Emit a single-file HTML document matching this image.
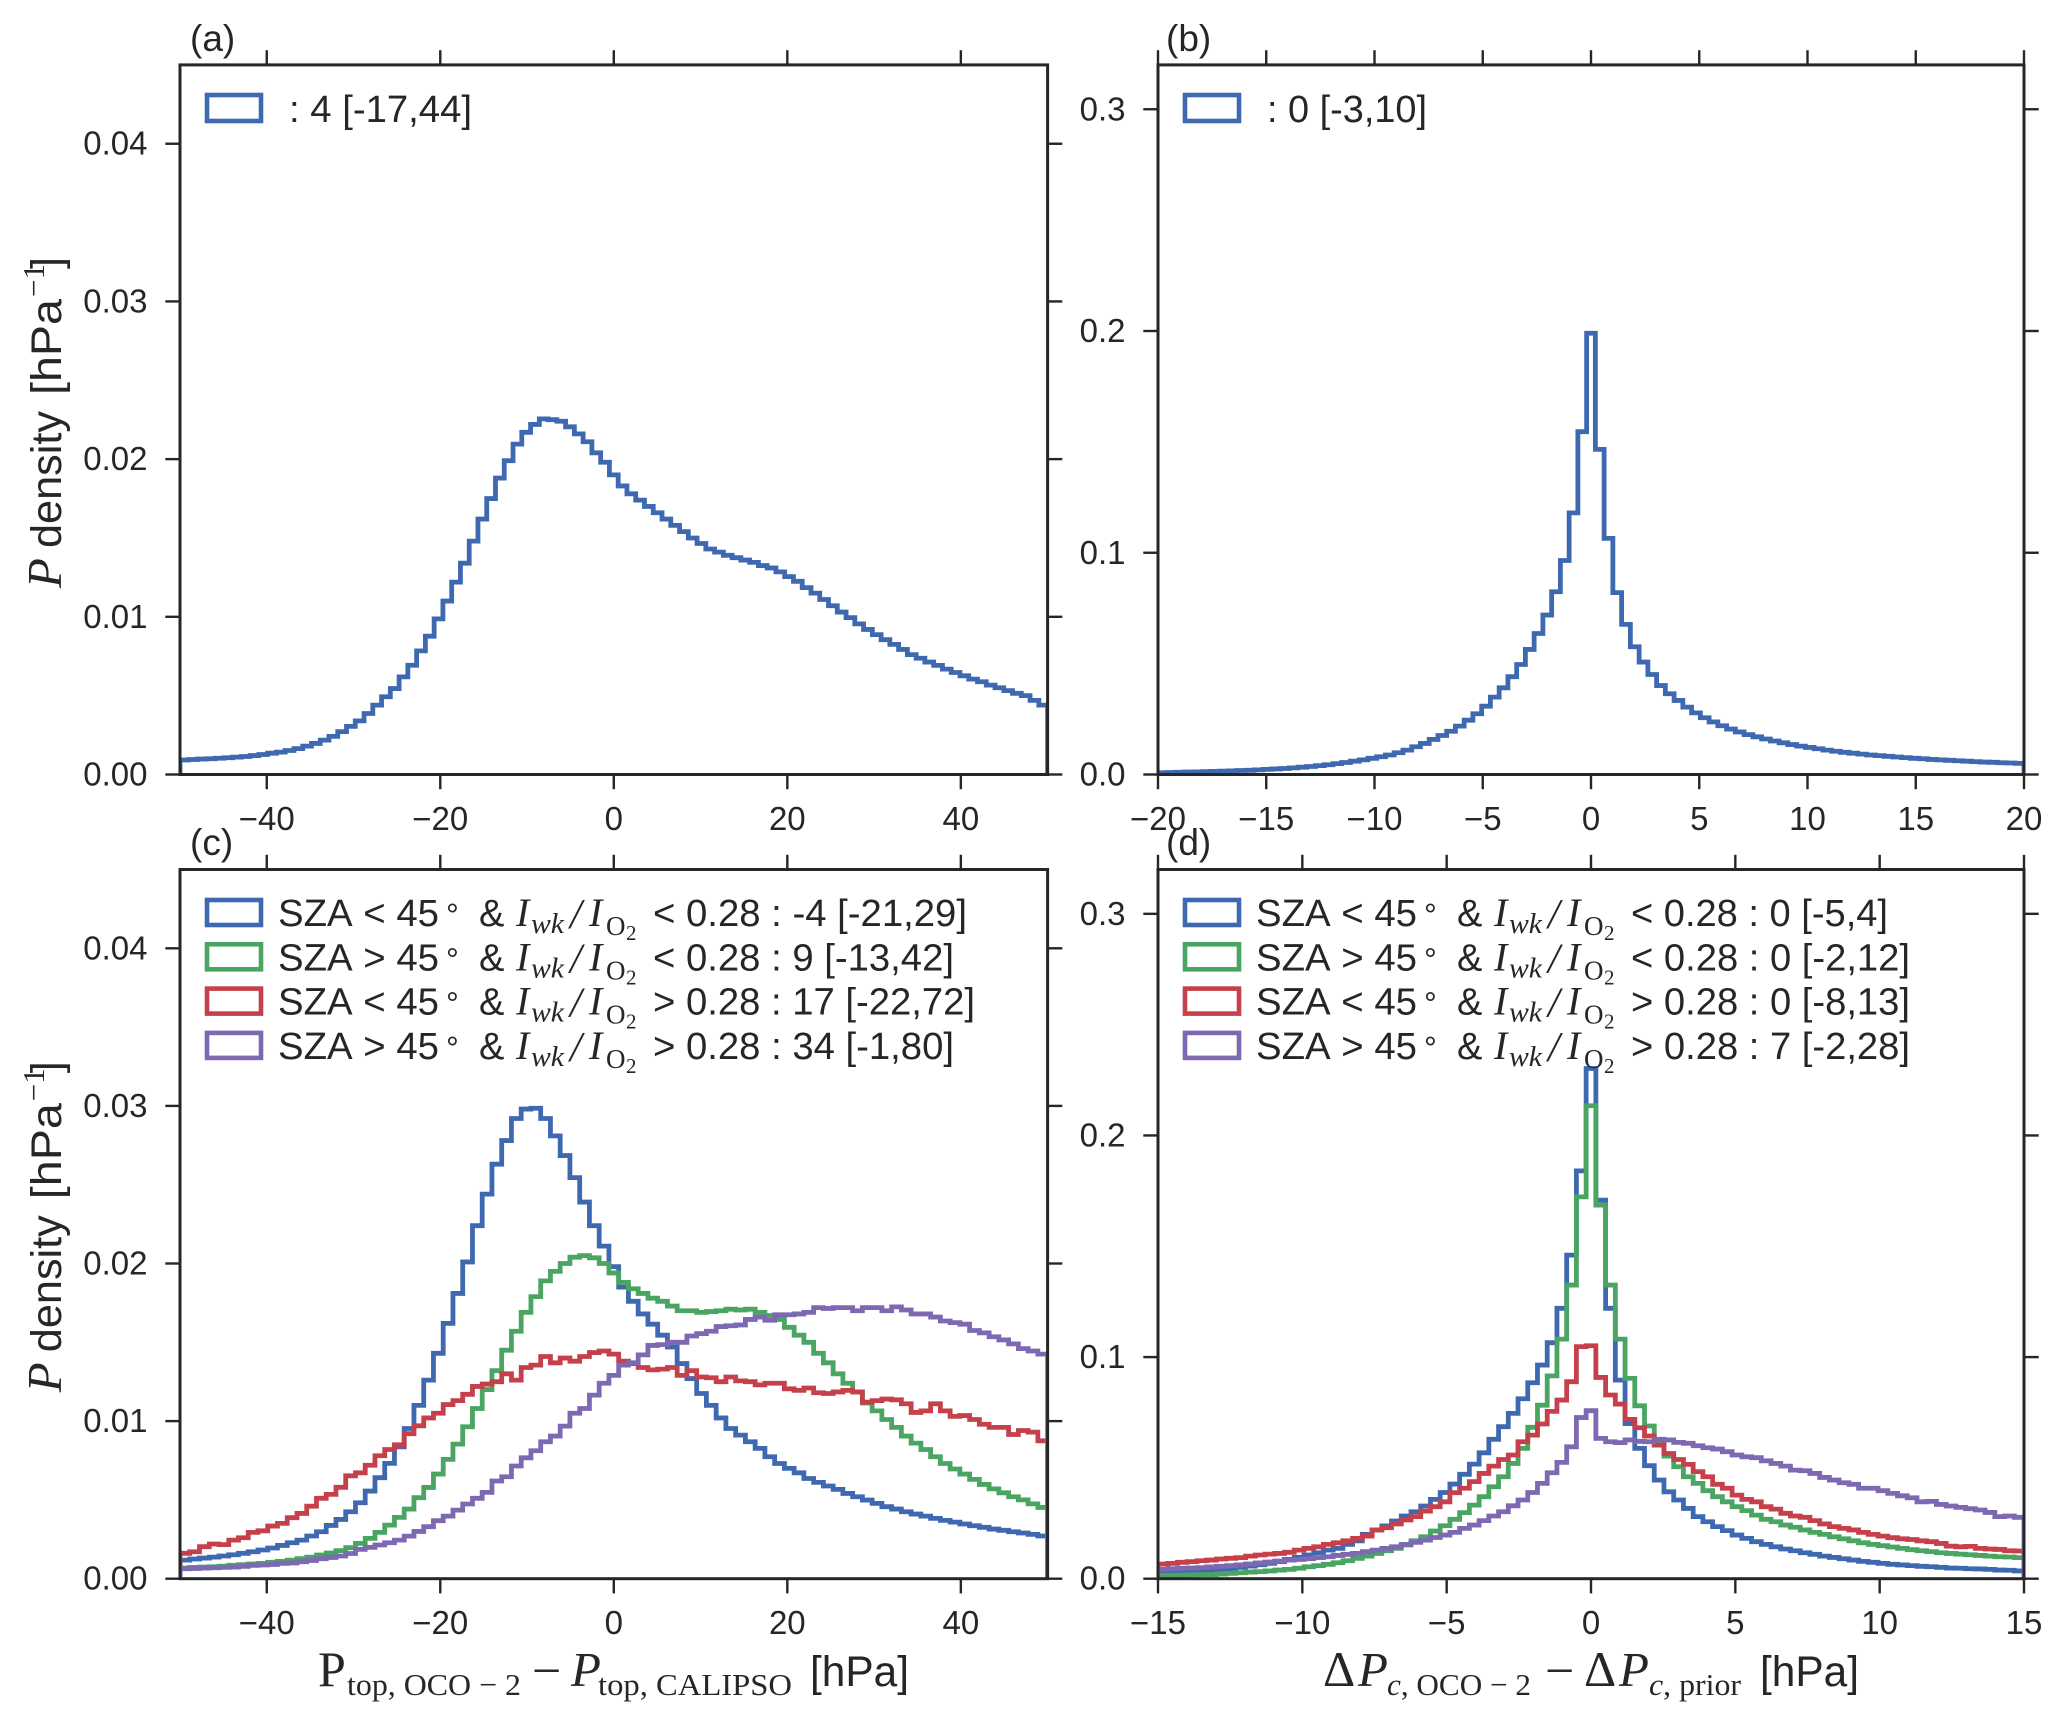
<!DOCTYPE html>
<html lang="en">
<head>
<meta charset="utf-8">
<title>Cloud top pressure difference histograms</title>
<style>
html,body{margin:0;padding:0;background:#fff;}
svg{display:block;}
text{fill:#262626;font-family:"Liberation Sans",sans-serif;}
.tick{font-size:33px;}
.panel{font-size:37px;}
.lg{font-size:38px;font-kerning:none;}
.deg{font-size:32px;}
.mi{font-family:"Liberation Serif",serif;font-style:italic;font-size:40px;}
.ms{font-family:"Liberation Serif",serif;font-style:italic;font-size:29px;}
.mr{font-family:"Liberation Serif",serif;font-size:27px;}
.mrr{font-family:"Liberation Serif",serif;font-size:21px;}
.ax{font-size:43px;}
.axi{font-family:"Liberation Serif",serif;font-style:italic;font-size:49px;}
.axr{font-family:"Liberation Serif",serif;font-size:50px;}
.axm{font-family:"Liberation Serif",serif;font-size:52px;}
.axs{font-family:"Liberation Serif",serif;font-size:31px;}
.axsi{font-family:"Liberation Serif",serif;font-style:italic;font-size:31px;}
.patch{fill:none;stroke-width:4.6;}
</style>
</head>
<body>
<svg id="figure" xmlns="http://www.w3.org/2000/svg" width="2067" height="1723" viewBox="0 0 2067 1723">
<rect x="0" y="0" width="2067" height="1723" fill="#ffffff"/>
<g id="plots"></g>

<text class="panel" x="190" y="51">(a)</text>
<text class="panel" x="1166" y="51">(b)</text>
<text class="panel" x="190" y="855">(c)</text>
<text class="panel" x="1166" y="855">(d)</text>

<g>
  <rect class="patch" x="207" y="95" width="54" height="26" stroke="#3e69b1"/>
  <text class="lg" x="289" y="122" textLength="183" lengthAdjust="spacingAndGlyphs">: 4 [-17,44]</text>
</g>
<g>
  <rect class="patch" x="1185" y="95" width="54" height="26" stroke="#3e69b1"/>
  <text class="lg" x="1267" y="122" textLength="160" lengthAdjust="spacingAndGlyphs">: 0 [-3,10]</text>
</g>

<g id="legend-c">
  <g>
    <rect class="patch" x="207" y="900" width="54" height="25" stroke="#3e69b1"/>
    <text class="lg" x="278" y="926" textLength="161" lengthAdjust="spacingAndGlyphs">SZA &lt; 45</text>
    <text class="deg" x="446" y="926">°</text>
    <text class="lg" x="479" y="926">&amp;</text>
    <text class="mi" x="516" y="926">I</text>
    <text class="ms" x="531" y="933" textLength="33" lengthAdjust="spacingAndGlyphs">wk</text>
    <text class="mi" x="570" y="928" style="font-size:42px">/</text>
    <text class="mi" x="589" y="926">I</text>
    <text class="mr" x="606" y="935">O</text>
    <text class="mrr" x="626" y="940">2</text>
    <text class="lg" x="653" y="926" textLength="314" lengthAdjust="spacingAndGlyphs">&lt; 0.28 : -4 [-21,29]</text>
  </g>
  <g transform="translate(0,44.3)">
    <rect class="patch" x="207" y="900" width="54" height="25" stroke="#4aa562"/>
    <text class="lg" x="278" y="926" textLength="161" lengthAdjust="spacingAndGlyphs">SZA &gt; 45</text>
    <text class="deg" x="446" y="926">°</text>
    <text class="lg" x="479" y="926">&amp;</text>
    <text class="mi" x="516" y="926">I</text>
    <text class="ms" x="531" y="933" textLength="33" lengthAdjust="spacingAndGlyphs">wk</text>
    <text class="mi" x="570" y="928" style="font-size:42px">/</text>
    <text class="mi" x="589" y="926">I</text>
    <text class="mr" x="606" y="935">O</text>
    <text class="mrr" x="626" y="940">2</text>
    <text class="lg" x="653" y="926" textLength="301" lengthAdjust="spacingAndGlyphs">&lt; 0.28 : 9 [-13,42]</text>
  </g>
  <g transform="translate(0,88.6)">
    <rect class="patch" x="207" y="900" width="54" height="25" stroke="#c5404a"/>
    <text class="lg" x="278" y="926" textLength="161" lengthAdjust="spacingAndGlyphs">SZA &lt; 45</text>
    <text class="deg" x="446" y="926">°</text>
    <text class="lg" x="479" y="926">&amp;</text>
    <text class="mi" x="516" y="926">I</text>
    <text class="ms" x="531" y="933" textLength="33" lengthAdjust="spacingAndGlyphs">wk</text>
    <text class="mi" x="570" y="928" style="font-size:42px">/</text>
    <text class="mi" x="589" y="926">I</text>
    <text class="mr" x="606" y="935">O</text>
    <text class="mrr" x="626" y="940">2</text>
    <text class="lg" x="653" y="926" textLength="322" lengthAdjust="spacingAndGlyphs">&gt; 0.28 : 17 [-22,72]</text>
  </g>
  <g transform="translate(0,132.9)">
    <rect class="patch" x="207" y="900" width="54" height="25" stroke="#7d68b2"/>
    <text class="lg" x="278" y="926" textLength="161" lengthAdjust="spacingAndGlyphs">SZA &gt; 45</text>
    <text class="deg" x="446" y="926">°</text>
    <text class="lg" x="479" y="926">&amp;</text>
    <text class="mi" x="516" y="926">I</text>
    <text class="ms" x="531" y="933" textLength="33" lengthAdjust="spacingAndGlyphs">wk</text>
    <text class="mi" x="570" y="928" style="font-size:42px">/</text>
    <text class="mi" x="589" y="926">I</text>
    <text class="mr" x="606" y="935">O</text>
    <text class="mrr" x="626" y="940">2</text>
    <text class="lg" x="653" y="926" textLength="301" lengthAdjust="spacingAndGlyphs">&gt; 0.28 : 34 [-1,80]</text>
  </g>
</g>

<g id="legend-d" transform="translate(978,0)">
  <g>
    <rect class="patch" x="207" y="900" width="54" height="25" stroke="#3e69b1"/>
    <text class="lg" x="278" y="926" textLength="161" lengthAdjust="spacingAndGlyphs">SZA &lt; 45</text>
    <text class="deg" x="446" y="926">°</text>
    <text class="lg" x="479" y="926">&amp;</text>
    <text class="mi" x="516" y="926">I</text>
    <text class="ms" x="531" y="933" textLength="33" lengthAdjust="spacingAndGlyphs">wk</text>
    <text class="mi" x="570" y="928" style="font-size:42px">/</text>
    <text class="mi" x="589" y="926">I</text>
    <text class="mr" x="606" y="935">O</text>
    <text class="mrr" x="626" y="940">2</text>
    <text class="lg" x="653" y="926" textLength="257" lengthAdjust="spacingAndGlyphs">&lt; 0.28 : 0 [-5,4]</text>
  </g>
  <g transform="translate(0,44.3)">
    <rect class="patch" x="207" y="900" width="54" height="25" stroke="#4aa562"/>
    <text class="lg" x="278" y="926" textLength="161" lengthAdjust="spacingAndGlyphs">SZA &gt; 45</text>
    <text class="deg" x="446" y="926">°</text>
    <text class="lg" x="479" y="926">&amp;</text>
    <text class="mi" x="516" y="926">I</text>
    <text class="ms" x="531" y="933" textLength="33" lengthAdjust="spacingAndGlyphs">wk</text>
    <text class="mi" x="570" y="928" style="font-size:42px">/</text>
    <text class="mi" x="589" y="926">I</text>
    <text class="mr" x="606" y="935">O</text>
    <text class="mrr" x="626" y="940">2</text>
    <text class="lg" x="653" y="926" textLength="279" lengthAdjust="spacingAndGlyphs">&lt; 0.28 : 0 [-2,12]</text>
  </g>
  <g transform="translate(0,88.6)">
    <rect class="patch" x="207" y="900" width="54" height="25" stroke="#c5404a"/>
    <text class="lg" x="278" y="926" textLength="161" lengthAdjust="spacingAndGlyphs">SZA &lt; 45</text>
    <text class="deg" x="446" y="926">°</text>
    <text class="lg" x="479" y="926">&amp;</text>
    <text class="mi" x="516" y="926">I</text>
    <text class="ms" x="531" y="933" textLength="33" lengthAdjust="spacingAndGlyphs">wk</text>
    <text class="mi" x="570" y="928" style="font-size:42px">/</text>
    <text class="mi" x="589" y="926">I</text>
    <text class="mr" x="606" y="935">O</text>
    <text class="mrr" x="626" y="940">2</text>
    <text class="lg" x="653" y="926" textLength="279" lengthAdjust="spacingAndGlyphs">&gt; 0.28 : 0 [-8,13]</text>
  </g>
  <g transform="translate(0,132.9)">
    <rect class="patch" x="207" y="900" width="54" height="25" stroke="#7d68b2"/>
    <text class="lg" x="278" y="926" textLength="161" lengthAdjust="spacingAndGlyphs">SZA &gt; 45</text>
    <text class="deg" x="446" y="926">°</text>
    <text class="lg" x="479" y="926">&amp;</text>
    <text class="mi" x="516" y="926">I</text>
    <text class="ms" x="531" y="933" textLength="33" lengthAdjust="spacingAndGlyphs">wk</text>
    <text class="mi" x="570" y="928" style="font-size:42px">/</text>
    <text class="mi" x="589" y="926">I</text>
    <text class="mr" x="606" y="935">O</text>
    <text class="mrr" x="626" y="940">2</text>
    <text class="lg" x="653" y="926" textLength="279" lengthAdjust="spacingAndGlyphs">&gt; 0.28 : 7 [-2,28]</text>
  </g>
</g>

<g>
  <text class="axi" transform="translate(61,588) rotate(-90)">P</text>
  <text class="ax" transform="translate(61,548) rotate(-90)" textLength="137" lengthAdjust="spacingAndGlyphs">density</text>
  <text class="ax" transform="translate(61,395) rotate(-90)" textLength="96" lengthAdjust="spacingAndGlyphs">[hPa</text>
  <text class="axs" transform="translate(44,297) rotate(-90)">−1</text>
  <text class="ax" transform="translate(61,269) rotate(-90)">]</text>
</g>
<g transform="translate(0,804.2)">
  <text class="axi" transform="translate(61,588) rotate(-90)">P</text>
  <text class="ax" transform="translate(61,548) rotate(-90)" textLength="137" lengthAdjust="spacingAndGlyphs">density</text>
  <text class="ax" transform="translate(61,395) rotate(-90)" textLength="96" lengthAdjust="spacingAndGlyphs">[hPa</text>
  <text class="axs" transform="translate(44,297) rotate(-90)">−1</text>
  <text class="ax" transform="translate(61,269) rotate(-90)">]</text>
</g>

<g>
  <text class="axr" x="318" y="1686">P</text>
  <text class="axs" x="347" y="1695" textLength="174" lengthAdjust="spacingAndGlyphs">top, OCO − 2</text>
  <text class="axm" x="532" y="1688">−</text>
  <text class="axi" x="571" y="1686">P</text>
  <text class="axs" x="598" y="1695" textLength="194" lengthAdjust="spacingAndGlyphs">top, CALIPSO</text>
  <text class="ax" x="810" y="1686" textLength="99" lengthAdjust="spacingAndGlyphs">[hPa]</text>
</g>
<g>
  <text class="axr" x="1323" y="1686">Δ</text>
  <text class="axi" x="1358" y="1686">P</text>
  <text class="axs" x="1387" y="1695" textLength="144" lengthAdjust="spacingAndGlyphs"><tspan class="axsi">c</tspan>, OCO − 2</text>
  <text class="axm" x="1545" y="1688">−</text>
  <text class="axr" x="1584" y="1686">Δ</text>
  <text class="axi" x="1619" y="1686">P</text>
  <text class="axs" x="1649" y="1695" textLength="92" lengthAdjust="spacingAndGlyphs"><tspan class="axsi">c</tspan>, prior</text>
  <text class="ax" x="1760" y="1686" textLength="99" lengthAdjust="spacingAndGlyphs">[hPa]</text>
</g>
</svg>

<script>
// ---- Data ----
// Panel (a), density in 10^-3 hPa^-1 per bin
const histA = [0.92,0.95,0.98,1.0,1.03,1.06,1.1,1.14,1.2,1.27,1.35,1.42,1.52,1.64,1.8,1.97,2.18,2.42,2.72,3.05,
  3.4,3.87,4.4,4.93,5.45,6.19,6.93,7.84,8.77,9.87,11.0,12.2,13.4,14.8,16.2,17.5,18.8,19.9,20.95,21.7,22.2,
  22.55,22.5,22.4,22.05,21.6,21.1,20.4,19.8,19.0,18.3,17.8,17.4,17.0,16.6,16.2,15.8,15.4,15.0,14.65,14.3,14.1,13.9,13.75,13.6,13.45,13.25,13.1,12.85,12.55,12.25,11.85,11.5,11.1,10.7,10.3,9.95,9.55,9.2,8.87,8.55,8.25,7.93,7.6,7.37,7.13,6.92,6.68,6.47,6.26,6.05,5.88,5.67,5.5,5.32,5.15,5.0,4.7,4.4];

// Panel (b), density per bin
const histB = [.0008,.0009,.0010,.0011,.0012,.0013,.0014,.0015,.0016,.0018,.0019,.0021,.0023,.0025,.0027,.0030,.0033,.0036,.0040,.0044,.0049,.0054,.0060,.0066,.0073,.0080,.0088,
  .0098,.011,.0125,.014,.0158,.0176,.0195,.0218,.0245,.0274,.0308,.0349,.0391,.0441,.0496,.0564,.0636,.0719,.0824,.0965,.118,.1546,.199,.1466,.1065,.082,.0677,.0576,.0507,.0451,.0401,.0364,.0334,.0304,
  .0278,.0256,.0237,.0220,.0205,.0192,.0180,.0170,.0160,.0151,.0143,.0135,.0128,.0122,.0116,.0110,.0105,.0100,.0096,.0092,.0088,.0085,.0082,.0079,.0076,.0073,.0071,.0068,.0066,.0064,.0062,.0060,.0058,.0056,.0055,.0053,.0052,.0050];

// Panel (c), density in 10^-3 hPa^-1 per bin
const histCBlue = [1.18,1.25,1.31,1.37,1.44,1.52,1.61,1.71,1.82,1.95,2.11,2.28,2.45,2.71,2.98,3.38,3.76,4.25,4.82,5.56,6.41,7.32,8.37,9.53,11.0,12.6,14.3,16.2,18.1,20.1,22.4,24.4,26.3,27.8,29.2,29.8,29.85,29.2,28.1,26.85,25.45,23.9,22.4,21.1,19.8,18.5,17.6,16.8,16.15,15.45,14.7,13.65,12.7,11.75,11.0,10.2,9.53,9.11,8.69,8.27,7.74,7.31,7.0,6.72,6.36,6.11,5.88,5.67,5.41,5.2,4.99,4.78,4.57,4.42,4.25,4.1,3.97,3.83,3.7,3.59,3.47,3.36,3.26,3.15,3.07,2.98,2.9,2.81,2.71];
const histCGreen = [.68,.72,.74,.76,.80,.85,.89,.93,.97,1.04,1.10,1.18,1.27,1.37,1.50,1.63,1.78,1.97,2.24,2.56,2.94,3.40,3.89,4.42,5.14,5.79,6.64,7.57,8.54,9.64,10.8,12.0,13.2,14.5,15.7,16.9,17.9,18.9,19.5,20.0,20.4,20.5,20.36,20.0,19.4,
  18.8,18.4,18.1,17.8,17.6,17.3,17.0,17.0,16.9,16.95,17.0,17.1,17.05,17.1,16.9,16.7,16.45,15.95,15.45,15.0,14.3,13.7,13.0,12.4,11.85,11.15,10.65,10.1,9.6,9.05,8.6,8.2,7.74,7.31,6.96,6.64,6.3,5.98,5.7,5.45,5.2,5.0,4.75,4.52];
const histCRed = [1.61,1.71,2.03,2.2,2.16,2.45,2.6,2.94,3.04,3.34,3.51,3.87,4.14,4.6,5.1,5.35,5.8,6.53,6.72,7.2,7.8,8.2,8.5,9.2,9.7,10.2,10.5,11.05,11.3,11.7,12.2,12.35,12.5,13.0,12.6,13.4,13.55,14.1,13.7,14.0,13.8,14.1,14.35,14.45,14.25,
  13.8,13.65,13.4,13.25,13.3,13.4,12.9,13.2,12.8,12.75,12.5,12.8,12.55,12.5,12.3,12.4,12.4,12.05,11.95,12.1,11.8,11.75,11.85,11.95,11.85,11.2,11.3,11.4,11.35,11.1,10.55,10.65,11.1,10.65,10.3,10.35,10.1,9.8,9.6,9.6,9.15,9.4,9.3,8.75];
const histCPurple = [.63,.65,.67,.70,.72,.74,.78,.85,.87,.9,.97,1.0,1.08,1.16,1.27,1.35,1.44,1.6,1.86,1.99,2.14,2.28,2.45,2.7,3.0,3.3,3.68,3.97,4.35,4.74,5.1,5.48,6.2,6.47,7.15,7.67,8.12,8.69,9.05,9.68,10.5,10.8,11.65,12.4,12.9,
  13.55,13.7,14.2,14.8,14.85,15.0,15.0,15.4,15.55,15.7,16.0,16.05,16.1,16.45,16.6,16.4,16.75,16.75,16.8,16.9,17.2,17.15,17.2,17.2,17.0,17.2,17.2,17.0,17.25,17.05,16.8,16.8,16.6,16.35,16.25,16.15,15.75,15.6,15.35,15.15,14.9,14.6,14.45,14.25];

// Panel (d), density per bin
const histDBlue = [.0027,.0029,.003,.0033,.0036,.0039,.0042,.0045,.0051,.0057,.0063,.0069,.0077,.0087,.0096,.0107,.0117,.0129,.0137,.0155,.0171,.02,.022,.0238,.026,.0283,.0302,.0328,.0358,.0389,.0427,.0471,.0517,.0568,.0629,.0686,.0746,.0812,.0884,.0964,.1065,.122,.146,.184,.2302,.1708,.122,.0896,.07,
  .0588,.051,.0445,.0392,.0355,.0317,.028,.0257,.0235,.0217,.0197,.0182,.0167,.0155,.0144,.0134,.0126,.0117,.011,.0102,.0096,.009,.0084,.0078,.0074,.0069,.0065,.0062,.0059,.0056,.0054,.0051,.0048,.0047,.0045,.0044,.0042,.0039,.0038,.0035];
const histDGreen = [.0015,.0015,.0016,.0017,.0018,.0018,.0021,.0024,.0027,.003,.0032,.0035,.0039,.0042,.0047,.0054,.0059,.0065,.0072,.0081,.0092,.0102,.0114,.0126,.0137,.0152,.0171,.0189,.0215,.0239,.0268,.0298,.0332,.037,.0415,.046,.052,.0588,.0683,.0783,.0915,.1081,.1325,.1723,.2134,.1686,.1325,.1081,.0904,
  .078,.0689,.061,.0553,.0505,.046,.043,.0397,.037,.0347,.0325,.0307,.0287,.0268,.0257,.0242,.0232,.022,.0209,.02,.0189,.018,.0171,.0162,.0155,.0149,.0143,.0137,.0131,.0126,.0122,.0117,.0114,.0111,.0108,.0105,.0102,.0099,.0098,.0095];
const histDRed = [.0066,.0069,.0074,.0077,.0081,.0084,.0089,.0092,.0095,.0102,.0107,.0111,.0114,.0119,.0129,.0137,.0144,.0155,.0162,.0171,.0182,.0192,.022,.023,.0247,.0265,.028,.0305,.0325,.0347,.0388,.0408,.0438,.0475,.0508,.0538,.0558,.0618,.0648,.0698,.0755,.0806,.0889,.1047,.1051,.0908,.0829,.0788,.0719,
  .0681,.0644,.0603,.0565,.0538,.0516,.0483,.046,.0426,.0408,.0377,.0358,.0347,.0325,.0314,.0295,.0283,.0277,.0262,.0247,.0235,.0227,.022,.0209,.02,.0192,.0185,.018,.0177,.0171,.0167,.0159,.0147,.0144,.0146,.0137,.0134,.0132,.0126,.0125];
const histDPurple = [.0042,.0045,.0047,.0048,.005,.0053,.0056,.0059,.0062,.0066,.0071,.0075,.008,.0084,.0087,.009,.0095,.0099,.0105,.011,.0114,.0122,.0129,.0137,.0144,.0155,.0164,.0174,.0186,.0197,.0209,.0227,.0242,.0262,.0283,.0302,.0329,.0355,.0389,.043,.0478,.0525,.0595,.0727,.0758,.0633,
  .0618,.0614,.0626,.062,.0618,.0629,.0626,.0615,.0611,.06,.0591,.0585,.0573,.0558,.055,.0546,.0532,.052,.0508,.049,.0487,.0475,.0457,.0445,.0433,.0426,.0408,.0408,.0397,.0385,.0374,.0365,.0347,.0349,.0335,.0328,.0322,.0316,.031,.0299,.028,.0283,.0277];

// Tick values and labels
const xTicksAC = [-40,-20,0,20,40];
const xTickLabelsAC = ['−40','−20','0','20','40'];
const xTicksB = [-20,-15,-10,-5,0,5,10,15,20];
const xTickLabelsB = ['−20','−15','−10','−5','0','5','10','15','20'];
const xTicksD = [-15,-10,-5,0,5,10,15];
const xTickLabelsD = ['−15','−10','−5','0','5','10','15'];
const yTicksAC = [0,10,20,30,40];
const yTickLabelsAC = ['0.00','0.01','0.02','0.03','0.04'];
const yTicksBD = [0,0.1,0.2,0.3];
const yTickLabelsBD = ['0.0','0.1','0.2','0.3'];

// ---- Drawing ----
const NS = 'http://www.w3.org/2000/svg';
const COLORS = {blue:'#3e69b1',green:'#4aa562',red:'#c5404a',purple:'#7d68b2'};
const INK = '#262626';
const plots = document.getElementById('plots');

function svgEl(tag, parent){
  const el = document.createElementNS(NS, tag);
  parent.appendChild(el);
  return el;
}

function drawPanel(id, box, xDomain, yMax, xTicks, xLabels, yTicks, yLabels, series){
  const sx = function(v){ return box.left + (v - xDomain[0]) / (xDomain[1] - xDomain[0]) * (box.right - box.left); };
  const sy = function(v){ return box.bottom - v / yMax * (box.bottom - box.top); };

  const g = svgEl('g', plots);
  
  

  const clip = svgEl('clipPath', g);
  clip.setAttribute('id', 'clip-' + id);
  const clipRect = svgEl('rect', clip);
  clipRect.setAttribute('x', box.left);
  clipRect.setAttribute('y', box.top);
  clipRect.setAttribute('width', box.right - box.left);
  clipRect.setAttribute('height', box.bottom - box.top);

  series.forEach(function(s){
    const n = s.values.length;
    const edge = function(i){ return xDomain[0] + i * (xDomain[1] - xDomain[0]) / n; };
    let d = 'M' + sx(edge(0)).toFixed(2) + ',' + sy(0).toFixed(2);
    for (let i = 0; i < n; i++) {
      const yy = sy(s.values[i]).toFixed(2);
      d += 'L' + sx(edge(i)).toFixed(2) + ',' + yy + 'L' + sx(edge(i + 1)).toFixed(2) + ',' + yy;
    }
    d += 'L' + sx(edge(n)).toFixed(2) + ',' + sy(0).toFixed(2);
    const p = svgEl('path', g);
    
    
    p.setAttribute('d', d);
    p.setAttribute('fill', 'none');
    p.setAttribute('stroke', COLORS[s.name]);
    p.setAttribute('stroke-width', '4.8');
    p.setAttribute('stroke-linejoin', 'miter');
    p.setAttribute('clip-path', 'url(#clip-' + id + ')');
  });

  const frame = svgEl('rect', g);
  
  
  frame.setAttribute('x', box.left);
  frame.setAttribute('y', box.top);
  frame.setAttribute('width', box.right - box.left);
  frame.setAttribute('height', box.bottom - box.top);
  frame.setAttribute('fill', 'none');
  frame.setAttribute('stroke', INK);
  frame.setAttribute('stroke-width', '3');

  const TL = 14.7;
  xTicks.forEach(function(v, k){
    const x = sx(v).toFixed(2);
    const b = svgEl('line', g);
    
    
    b.setAttribute('x1', x); b.setAttribute('x2', x);
    b.setAttribute('y1', box.bottom); b.setAttribute('y2', box.bottom + TL);
    b.setAttribute('stroke', INK); b.setAttribute('stroke-width', '2.4');
    const t = svgEl('line', g);
    
    
    t.setAttribute('x1', x); t.setAttribute('x2', x);
    t.setAttribute('y1', box.top); t.setAttribute('y2', box.top - TL);
    t.setAttribute('stroke', INK); t.setAttribute('stroke-width', '2.4');
    const lab = svgEl('text', g);
    
    
    lab.setAttribute('class', 'tick');
    lab.setAttribute('x', x);
    lab.setAttribute('y', box.bottom + 55.5);
    lab.setAttribute('text-anchor', 'middle');
    lab.textContent = xLabels[k];
  });

  yTicks.forEach(function(v, k){
    const y = sy(v).toFixed(2);
    const l = svgEl('line', g);
    
    
    l.setAttribute('x1', box.left); l.setAttribute('x2', box.left - TL);
    l.setAttribute('y1', y); l.setAttribute('y2', y);
    l.setAttribute('stroke', INK); l.setAttribute('stroke-width', '2.4');
    const r = svgEl('line', g);
    
    
    r.setAttribute('x1', box.right); r.setAttribute('x2', box.right + TL);
    r.setAttribute('y1', y); r.setAttribute('y2', y);
    r.setAttribute('stroke', INK); r.setAttribute('stroke-width', '2.4');
    const lab = svgEl('text', g);
    
    
    lab.setAttribute('class', 'tick');
    lab.setAttribute('x', box.left - 32.5);
    lab.setAttribute('y', sy(v) + 11);
    lab.setAttribute('text-anchor', 'end');
    lab.textContent = yLabels[k];
  });
}

const BOX_A = {left:180, right:1047.6, top:64.9, bottom:774.5};
const BOX_B = {left:1158, right:2024, top:64.9, bottom:774.5};
const BOX_C = {left:180, right:1047.6, top:869.5, bottom:1578.7};
const BOX_D = {left:1158, right:2024, top:869.5, bottom:1578.7};

drawPanel('a', BOX_A, [-50,50], 45, xTicksAC, xTickLabelsAC, yTicksAC, yTickLabelsAC,
  [{name:'blue', values:histA}]);
drawPanel('b', BOX_B, [-20,20], 0.32, xTicksB, xTickLabelsB, yTicksBD, yTickLabelsBD,
  [{name:'blue', values:histB}]);
drawPanel('c', BOX_C, [-50,50], 45, xTicksAC, xTickLabelsAC, yTicksAC, yTickLabelsAC,
  [{name:'blue', values:histCBlue},{name:'green', values:histCGreen},{name:'red', values:histCRed},{name:'purple', values:histCPurple}]);
drawPanel('d', BOX_D, [-15,15], 0.32, xTicksD, xTickLabelsD, yTicksBD, yTickLabelsBD,
  [{name:'blue', values:histDBlue},{name:'green', values:histDGreen},{name:'red', values:histDRed},{name:'purple', values:histDPurple}]);
</script>
</body>
</html>
